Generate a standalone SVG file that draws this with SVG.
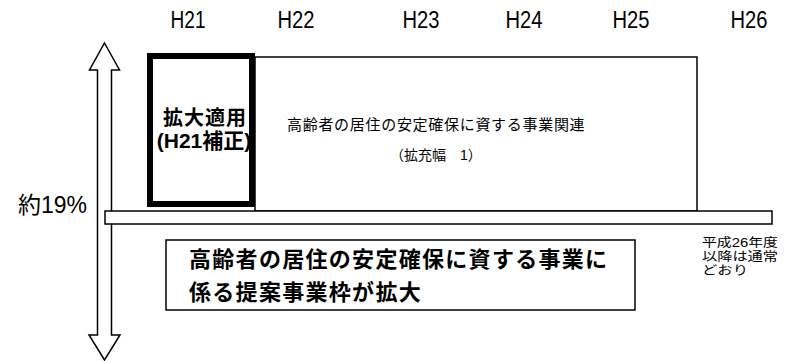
<svg xmlns="http://www.w3.org/2000/svg" width="794" height="361" viewBox="0 0 794 361">
<style>
.bg{fill:#fff}
.ln{fill:#fff;stroke:#000;stroke-width:1.5}
.thick{fill:none;stroke:#000;stroke-width:6}
.yr{font-family:"Liberation Sans","Noto Sans CJK JP",sans-serif;font-size:23px;fill:#000}
.jp{font-family:"Liberation Sans","Noto Sans CJK JP",sans-serif;fill:#000}
.b{font-weight:bold}
</style>
<rect class="bg" x="0" y="0" width="794" height="361"/>
<g id="years">
<text class="yr" x="188" y="28" text-anchor="middle" textLength="35" lengthAdjust="spacingAndGlyphs">H21</text>
<text class="yr" x="296" y="28" text-anchor="middle" textLength="37" lengthAdjust="spacingAndGlyphs">H22</text>
<text class="yr" x="421" y="28" text-anchor="middle" textLength="37" lengthAdjust="spacingAndGlyphs">H23</text>
<text class="yr" x="524" y="28" text-anchor="middle" textLength="37" lengthAdjust="spacingAndGlyphs">H24</text>
<text class="yr" x="631" y="28" text-anchor="middle" textLength="37" lengthAdjust="spacingAndGlyphs">H25</text>
<text class="yr" x="749" y="28" text-anchor="middle" textLength="37" lengthAdjust="spacingAndGlyphs">H26</text>
</g>
<g id="connectors">
<path class="ln" d="M104.5,43 L119.5,70 L111.5,70 L111.5,335 L120,335 L104.5,360 L89,335 L97.5,335 L97.5,70 L89.5,70 Z"/>
</g>
<g id="expanded-area">
<rect class="ln" x="255" y="57" width="442" height="154"/>
<text class="jp" x="287" y="130" font-size="15" letter-spacing="0.7">高齢者の居住の安定確保に資する事業関連</text>
<text class="jp" x="390" y="160" font-size="14">（拡充幅　1）</text>
</g>
<g id="h21-box">
<rect class="thick" x="150" y="56" width="102" height="148"/>
<text class="jp b" x="205" y="125" font-size="20" text-anchor="middle" letter-spacing="1">拡大適用</text>
<text class="jp b" x="204" y="148" font-size="21" text-anchor="middle">(H21補正)</text>
</g>
<g id="base-bar">
<rect class="ln" x="105" y="211" width="667" height="13"/>
</g>
<g id="pct-label">
<text class="jp" x="18" y="213" font-size="23">約19%</text>
</g>
<g id="summary-box">
<rect class="ln" x="166" y="240" width="469" height="70"/>
<text class="jp b" x="189" y="267" font-size="22" letter-spacing="1.3">高齢者の居住の安定確保に資する事業に</text>
<text class="jp b" x="189" y="300" font-size="22" letter-spacing="1.3">係る提案事業枠が拡大</text>
</g>
<g id="note">
<text class="jp" x="702" y="247" font-size="12" textLength="76" lengthAdjust="spacingAndGlyphs">平成26年度</text>
<text class="jp" x="702" y="261" font-size="12" textLength="76" lengthAdjust="spacingAndGlyphs">以降は通常</text>
<text class="jp" x="702" y="275" font-size="12" textLength="46" lengthAdjust="spacingAndGlyphs">どおり</text>
</g>
</svg>
